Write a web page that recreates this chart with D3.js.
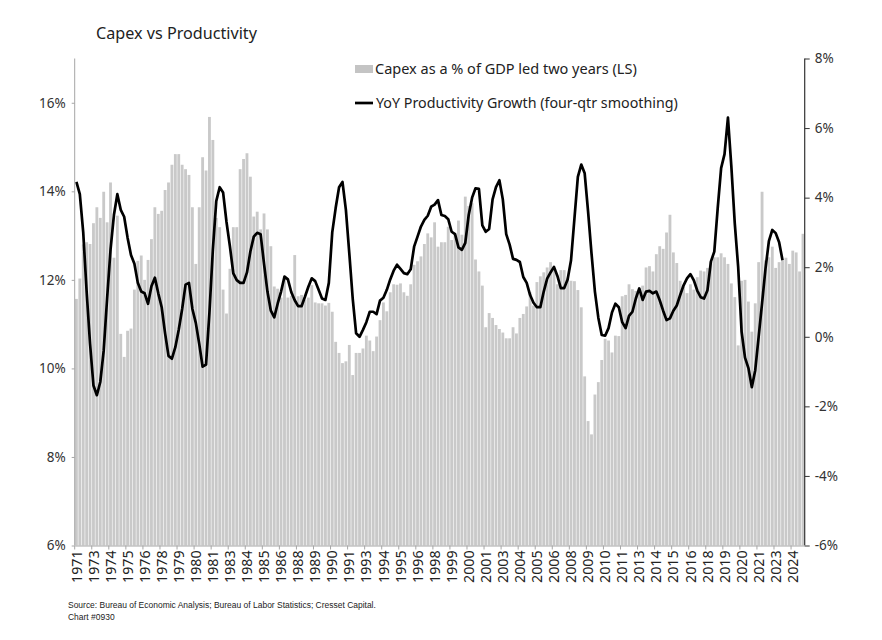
<!DOCTYPE html>
<html><head><meta charset="utf-8">
<script src="https://cdn.jsdelivr.net/npm/d3@7"></script>
<style>body{margin:0;background:#fff}svg{display:block}</style>
</head><body>
<svg id="c" width="882" height="640"></svg>
<script>
// ---- data ----
const startYear = 1971, startQuarter = 4, quarterCount = 214;

const capex = [
11.57,12.03,12.8,12.85,12.81,13.28,13.64,13.40,13.99,13.30,
14.2,12.5,13.45,10.78,10.26,10.85,10.9,11.78,12.43,12.55,
12.0,12.45,12.92,13.64,13.49,13.56,14.03,14.2,14.6,14.84,
14.84,14.6,14.5,14.37,13.64,12.36,13.64,14.77,14.47,15.68,
15.16,13.4,13.19,11.78,11.24,12.25,13.19,13.19,14.5,14.73,
14.86,14.33,13.43,13.54,13.14,13.5,13.14,12.76,11.85,11.8,
11.6,12.05,11.6,11.64,12.56,11.63,11.66,11.55,11.6,11.88,
11.49,11.47,11.47,11.42,11.48,11.28,10.6,10.35,10.12,10.16,
10.53,9.85,10.35,10.35,10.45,10.74,10.63,10.39,10.72,11.09,
11.49,11.29,11.72,11.9,11.89,11.92,11.72,11.64,11.9,12.34,
12.42,12.53,12.81,13.05,12.96,13.3,12.75,12.85,12.85,13.2,
12.9,13.02,13.34,13.02,13.88,13.67,13.73,12.46,12.19,11.87,
10.93,11.25,11.14,10.98,10.89,10.81,10.68,10.68,10.93,10.79,
11.14,11.23,11.4,11.72,11.42,11.95,12.08,12.17,12.28,12.4,
12.23,11.9,12.22,12.22,12.05,11.98,11.97,11.77,11.38,9.82,
8.81,8.51,9.41,9.69,10.19,10.67,10.63,10.36,10.74,10.73,
11.63,11.66,11.9,11.79,11.75,11.8,11.87,12.28,12.31,12.19,
12.58,12.76,12.7,13.07,13.47,12.62,12.38,11.98,11.85,11.7,
11.9,11.78,12.06,12.21,12.19,12.27,12.41,12.51,12.51,12.6,
12.51,12.36,11.92,11.61,10.52,11.98,12.0,11.51,10.83,11.47,
12.4,13.99,12.44,12.51,12.75,12.27,12.4,12.44,12.5,12.36,
12.66,12.62,12.19,13.04
];

const productivity = [
4.45,4.1,3.0,1.3,-0.2,-1.4,-1.68,-1.3,-0.4,1.1,
2.5,3.5,4.1,3.65,3.45,2.85,2.35,2.1,1.55,1.3,
1.25,0.95,1.45,1.7,1.25,0.85,0.1,-0.55,-0.63,-0.3,
0.2,0.8,1.5,1.55,0.8,0.4,-0.2,-0.86,-0.8,0.7,
2.5,3.9,4.3,4.15,3.3,2.6,1.82,1.63,1.55,1.55,
1.85,2.45,2.88,2.99,2.95,2.1,1.3,0.75,0.56,0.95,
1.3,1.73,1.65,1.28,1.05,0.88,0.88,1.15,1.44,1.68,
1.6,1.35,1.1,1.06,1.55,3.0,3.7,4.3,4.45,3.65,
2.4,1.1,0.1,0.0,0.2,0.42,0.72,0.72,0.65,1.04,
1.12,1.35,1.65,1.9,2.07,1.95,1.83,1.8,1.94,2.59,
2.88,3.17,3.36,3.48,3.74,3.8,3.93,3.5,3.47,3.38,
3.02,2.95,2.57,2.5,2.7,3.5,4.0,4.27,4.25,3.2,
3.02,3.1,3.95,4.3,4.5,3.95,2.95,2.65,2.24,2.21,
2.15,1.72,1.55,1.2,0.98,0.85,0.85,1.3,1.67,1.85,
2.01,1.75,1.4,1.4,1.65,2.2,3.4,4.6,4.95,4.7,
3.6,2.4,1.3,0.55,0.05,0.03,0.25,0.7,0.95,0.85,
0.42,0.25,0.6,0.72,1.1,1.39,1.06,1.3,1.32,1.25,
1.3,1.05,0.75,0.48,0.53,0.75,0.9,1.2,1.48,1.68,
1.8,1.62,1.33,1.14,1.1,1.34,2.16,2.45,3.7,4.85,
5.25,6.3,4.89,3.26,2.0,0.15,-0.6,-0.9,-1.45,-0.96,
0.0,0.96,1.95,2.75,3.07,2.98,2.72,2.2
];

const leftTicks = [6, 8, 10, 12, 14, 16];
const leftDomain = [6, 17];
const rightTicks = [-6, -4, -2, 0, 2, 4, 6, 8];
const rightDomain = [-6, 8];
const xTickLabels = ["1971","1973","1974","1975","1976","1978","1979","1980","1981","1983",
"1984","1985","1986","1988","1989","1990","1991","1993","1994","1995",
"1996","1998","1999","2000","2001","2003","2004","2005","2006","2008",
"2009","2010","2011","2013","2014","2015","2016","2018","2019","2020",
"2021","2023","2024"];
const xTickEvery = 5;

const title = "Capex vs Productivity";
const legendBars = "Capex as a % of GDP led two years (LS)";
const legendLine = "YoY Productivity Growth (four-qtr smoothing)";
const sourceLines = ["Source: Bureau of Economic Analysis; Bureau of Labor Statistics; Cresset Capital.", "Chart #0930"];

// categories (quarters)
const categories = [];
for (let i = 0; i < quarterCount; i++) {
  const q = startQuarter - 1 + i;
  categories.push((startYear + Math.floor(q / 4)) + "Q" + (q % 4 + 1));
}

// ---- layout ----
const svg = d3.select("#c");
const FONT = "'Noto Sans', 'DejaVu Sans', sans-serif";
const plot = {left: 74.7, right: 804.7, top: 58.5, bottom: 545.5};

const x = d3.scaleBand().domain(categories).range([plot.left, plot.right])
  .paddingInner(0.17).paddingOuter(0.085);
const yL = d3.scaleLinear().domain(leftDomain).range([plot.bottom, plot.top]);
const yR = d3.scaleLinear().domain(rightDomain).range([plot.bottom, plot.top]);

function fit(sel, target) {
  const w = sel.node().getComputedTextLength();
  const fs = parseFloat(sel.attr("font-size"));
  sel.attr("font-size", (fs * target / w).toFixed(2));
}

// bars
svg.append("g").selectAll("rect").data(capex).join("rect")
  .attr("x", (d, i) => x(categories[i]))
  .attr("width", x.bandwidth())
  .attr("y", d => yL(d))
  .attr("height", d => yL(leftDomain[0]) - yL(d))
  .attr("fill", "#c9c9c9");

// line
const line = d3.line()
  .x((d, i) => x(categories[i]) + x.bandwidth() / 2)
  .y(d => yR(d));
svg.append("path").datum(productivity)
  .attr("d", line)
  .attr("fill", "none").attr("stroke", "#000")
  .attr("stroke-width", 2.7).attr("stroke-linejoin", "round");

// left axis
const gL = svg.append("g").attr("transform", `translate(${plot.left},0)`)
  .call(d3.axisLeft(yL).tickValues(leftTicks).tickSize(3).tickFormat(d => d + "%"));
gL.select(".domain").remove();
gL.append("line").attr("x1", 0).attr("x2", 0).attr("y1", plot.top).attr("y2", plot.bottom)
  .attr("stroke", "#a6a6a6").attr("stroke-width", 1);
gL.selectAll(".tick line").attr("stroke", "#a6a6a6");
gL.selectAll(".tick text").attr("x", -9).attr("font-size", 13.5).attr("font-family", FONT).attr("fill", "#333");

// right axis
const gR = svg.append("g").attr("transform", `translate(${plot.right},0)`)
  .call(d3.axisRight(yR).tickValues(rightTicks).tickSize(5).tickFormat(d => d + "%"));
gR.select(".domain").remove();
gR.append("line").attr("x1", 0).attr("x2", 0).attr("y1", plot.top).attr("y2", plot.bottom)
  .attr("stroke", "#333").attr("stroke-width", 1.2);
gR.selectAll(".tick line").attr("stroke", "#333");
gR.selectAll(".tick text").attr("x", 10).attr("font-size", 13.5).attr("font-family", FONT).attr("fill", "#333");

// bottom axis
const tickCats = xTickLabels.map((l, k) => categories[k * xTickEvery]);
const gB = svg.append("g").attr("transform", `translate(0,${plot.bottom})`)
  .call(d3.axisBottom(x).tickValues(tickCats).tickSize(0)
    .tickFormat((d, k) => xTickLabels[k]));
gB.select(".domain").attr("stroke", "#a6a6a6");
gB.selectAll(".tick").each(function(d) {
  d3.select(this).append("line")
    .attr("x1", -x.step() / 2).attr("x2", -x.step() / 2).attr("y1", 0).attr("y2", 4)
    .attr("stroke", "#a6a6a6");
});
gB.selectAll(".tick text")
  .attr("transform", "rotate(-90)")
  .attr("text-anchor", "end")
  .attr("x", -5).attr("y", 0).attr("dy", "0.36em")
  .attr("font-size", 14.2).attr("font-family", FONT).attr("fill", "#222");

// title
fit(svg.append("text").attr("x", 96).attr("y", 39).attr("font-size", 16)
  .attr("font-family", FONT).attr("fill", "#222").text(title), 161);

// legend
svg.append("rect").attr("x", 355).attr("y", 65).attr("width", 18).attr("height", 8).attr("fill", "#c4c4c4");
fit(svg.append("text").attr("x", 375).attr("y", 74).attr("font-size", 13)
  .attr("font-family", FONT).attr("fill", "#222").text(legendBars), 262);
svg.append("line").attr("x1", 355).attr("x2", 373).attr("y1", 103).attr("y2", 103)
  .attr("stroke", "#000").attr("stroke-width", 2.7);
fit(svg.append("text").attr("x", 376).attr("y", 108).attr("font-size", 13)
  .attr("font-family", FONT).attr("fill", "#222").text(legendLine), 302);

// source
const s1 = svg.append("text").attr("x", 68).attr("y", 608).attr("font-size", 9)
  .attr("font-family", "'Liberation Sans', Arial, sans-serif").attr("fill", "#222").text(sourceLines[0]);
fit(s1, 308);
svg.append("text").attr("x", 68).attr("y", 620).attr("font-size", s1.attr("font-size"))
  .attr("font-family", "'Liberation Sans', Arial, sans-serif").attr("fill", "#222").text(sourceLines[1]);
</script>
</body></html>
